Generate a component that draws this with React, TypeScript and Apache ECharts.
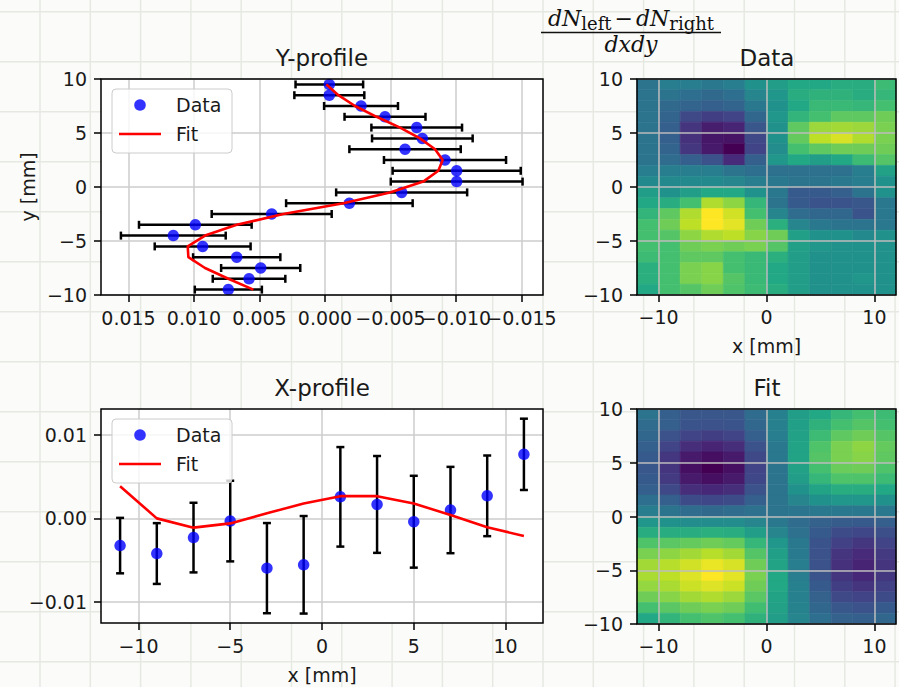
import React, { useEffect, useRef } from 'react';
import * as echarts from 'echarts';

const FONT = 'DejaVu Sans';
const SERIF = 'DejaVu Serif';
const TXT = '#1a1a1a';

// ---------- Y-profile ----------
const yProfileY = [9.5, 8.5, 7.5, 6.5, 5.5, 4.5, 3.5, 2.5, 1.5, 0.5, -0.5, -1.5, -2.5, -3.5, -4.5, -5.5, -6.5, -7.5, -8.5, -9.5];
const yProfileVal = [-0.00033, -0.00033, -0.00275, -0.00458, -0.0070, -0.00743, -0.00611, -0.00916, -0.01005, -0.01005, -0.00585, -0.00186, 0.00407, 0.0099, 0.01158, 0.00934, 0.00674, 0.00491, 0.0058, 0.00738];
const yProfileErr = [0.00258, 0.00267, 0.00282, 0.00309, 0.00346, 0.00384, 0.00425, 0.00466, 0.00489, 0.00503, 0.005, 0.00483, 0.00458, 0.0043, 0.004, 0.00366, 0.00333, 0.00302, 0.00277, 0.00256];
const yProfileFit = [-0.0001, -0.00102, -0.00229, -0.00394, -0.00573, -0.00725, -0.0084, -0.00898, -0.00865, -0.0075, -0.00496, -0.0014, 0.00318, 0.00674, 0.00916, 0.01048, 0.01043, 0.00916, 0.00738, 0.00547];
const yProfileXTicks = [-0.015, -0.01, -0.005, 0, 0.005, 0.01, 0.015];
// labels are split in two alternating sets so that overlapping neighbours are both kept
const yProfileXLabelsA = [-0.015, -0.005, 0.005, 0.015];
const yProfileXLabelsB = [-0.01, 0, 0.01];
const posTicks = [-10, -5, 0, 5, 10];

// ---------- X-profile ----------
const xProfileX = [-11, -9, -7, -5, -3, -1, 1, 3, 5, 7, 9, 11];
const xProfileVal = [-0.00326, -0.00421, -0.0023, -0.00032, -0.00596, -0.00556, 0.00258, 0.00167, -0.0004, 0.001, 0.0027, 0.00767];
const xProfileErr = [0.00332, 0.00364, 0.00417, 0.00483, 0.0054, 0.00584, 0.00596, 0.0058, 0.0055, 0.00517, 0.00483, 0.00427];
const xProfileFit = [0.00386, 0.0, -0.00111, -0.0006, 0.0006, 0.00179, 0.00266, 0.00266, 0.00179, 0.0004, -0.00107, -0.00211];
const xProfileYTicks = [-0.01, 0, 0.01];

// ---------- Heatmaps (rows top -> bottom, columns left -> right) ----------
const heatX = [-11, -9, -7, -5, -3, -1, 1, 3, 5, 7, 9, 11];
const heatY = yProfileY;
const heatXTicks = [-10, 0, 10];

const dataHeatRows = [
  [0.38, 0.42, 0.42, 0.40, 0.42, 0.50, 0.55, 0.60, 0.60, 0.62, 0.62, 0.68],
  [0.38, 0.38, 0.36, 0.34, 0.36, 0.45, 0.52, 0.62, 0.64, 0.64, 0.62, 0.66],
  [0.38, 0.34, 0.32, 0.30, 0.32, 0.40, 0.50, 0.60, 0.67, 0.67, 0.66, 0.70],
  [0.38, 0.32, 0.22, 0.18, 0.20, 0.33, 0.52, 0.65, 0.70, 0.75, 0.75, 0.78],
  [0.38, 0.30, 0.15, 0.08, 0.10, 0.27, 0.50, 0.75, 0.85, 0.86, 0.85, 0.80],
  [0.38, 0.30, 0.14, 0.06, 0.05, 0.22, 0.50, 0.76, 0.90, 0.94, 0.88, 0.80],
  [0.38, 0.32, 0.16, 0.07, 0.00, 0.20, 0.48, 0.70, 0.75, 0.78, 0.78, 0.78],
  [0.38, 0.35, 0.30, 0.25, 0.12, 0.30, 0.52, 0.60, 0.55, 0.60, 0.68, 0.73],
  [0.42, 0.42, 0.42, 0.42, 0.38, 0.36, 0.37, 0.37, 0.37, 0.37, 0.42, 0.57],
  [0.47, 0.47, 0.47, 0.47, 0.45, 0.42, 0.40, 0.38, 0.38, 0.40, 0.42, 0.50],
  [0.55, 0.50, 0.55, 0.60, 0.60, 0.50, 0.40, 0.28, 0.28, 0.30, 0.38, 0.50],
  [0.60, 0.62, 0.70, 0.88, 0.83, 0.66, 0.38, 0.28, 0.26, 0.26, 0.27, 0.40],
  [0.65, 0.75, 0.88, 1.00, 0.93, 0.70, 0.45, 0.35, 0.33, 0.33, 0.26, 0.40],
  [0.70, 0.78, 0.90, 1.00, 0.96, 0.78, 0.63, 0.45, 0.40, 0.38, 0.38, 0.40],
  [0.70, 0.73, 0.83, 0.88, 0.90, 0.82, 0.78, 0.56, 0.50, 0.50, 0.47, 0.50],
  [0.70, 0.70, 0.78, 0.80, 0.78, 0.80, 0.73, 0.56, 0.52, 0.50, 0.50, 0.50],
  [0.68, 0.70, 0.75, 0.75, 0.70, 0.67, 0.63, 0.55, 0.50, 0.50, 0.50, 0.50],
  [0.63, 0.70, 0.80, 0.82, 0.70, 0.67, 0.60, 0.55, 0.50, 0.50, 0.50, 0.50],
  [0.63, 0.70, 0.80, 0.82, 0.73, 0.67, 0.60, 0.55, 0.50, 0.50, 0.52, 0.50],
  [0.60, 0.70, 0.73, 0.78, 0.72, 0.68, 0.62, 0.55, 0.50, 0.50, 0.50, 0.50],
];

const fitHeatRows = [
  [0.38, 0.30, 0.27, 0.27, 0.27, 0.35, 0.43, 0.55, 0.60, 0.66, 0.70, 0.68],
  [0.35, 0.30, 0.26, 0.25, 0.26, 0.33, 0.43, 0.56, 0.64, 0.70, 0.73, 0.70],
  [0.33, 0.25, 0.20, 0.18, 0.20, 0.30, 0.42, 0.57, 0.68, 0.75, 0.78, 0.73],
  [0.30, 0.20, 0.13, 0.10, 0.13, 0.25, 0.40, 0.58, 0.72, 0.80, 0.83, 0.76],
  [0.28, 0.16, 0.07, 0.04, 0.07, 0.22, 0.40, 0.58, 0.73, 0.80, 0.82, 0.75],
  [0.27, 0.15, 0.04, 0.00, 0.04, 0.20, 0.38, 0.57, 0.70, 0.77, 0.78, 0.72],
  [0.28, 0.17, 0.07, 0.04, 0.07, 0.21, 0.38, 0.55, 0.66, 0.72, 0.72, 0.68],
  [0.30, 0.22, 0.13, 0.11, 0.13, 0.25, 0.38, 0.50, 0.58, 0.62, 0.62, 0.60],
  [0.36, 0.30, 0.23, 0.21, 0.23, 0.30, 0.38, 0.45, 0.50, 0.52, 0.52, 0.50],
  [0.42, 0.38, 0.35, 0.34, 0.35, 0.37, 0.38, 0.39, 0.40, 0.40, 0.40, 0.40],
  [0.52, 0.50, 0.48, 0.48, 0.48, 0.45, 0.40, 0.35, 0.31, 0.29, 0.28, 0.30],
  [0.62, 0.62, 0.62, 0.63, 0.62, 0.55, 0.45, 0.37, 0.28, 0.23, 0.21, 0.24],
  [0.72, 0.74, 0.76, 0.78, 0.76, 0.66, 0.52, 0.40, 0.26, 0.19, 0.16, 0.20],
  [0.80, 0.83, 0.86, 0.89, 0.86, 0.73, 0.56, 0.41, 0.25, 0.15, 0.12, 0.17],
  [0.86, 0.89, 0.93, 0.97, 0.94, 0.78, 0.58, 0.42, 0.25, 0.14, 0.10, 0.15],
  [0.87, 0.90, 0.95, 1.00, 0.96, 0.80, 0.60, 0.42, 0.26, 0.15, 0.11, 0.16],
  [0.84, 0.87, 0.92, 0.95, 0.92, 0.78, 0.60, 0.43, 0.28, 0.18, 0.15, 0.19],
  [0.78, 0.82, 0.86, 0.88, 0.85, 0.74, 0.58, 0.43, 0.31, 0.22, 0.20, 0.23],
  [0.70, 0.74, 0.78, 0.80, 0.78, 0.69, 0.57, 0.44, 0.33, 0.27, 0.25, 0.28],
  [0.60, 0.65, 0.70, 0.72, 0.70, 0.64, 0.55, 0.45, 0.36, 0.31, 0.30, 0.33],
];

const viridis = ['#440154', '#482475', '#414487', '#355f8d', '#2a788e', '#21918c', '#22a884', '#44bf70', '#7ad151', '#bddf26', '#fde725'];

const fmtMinus = (v: number, d: number) => {
  const s = Math.abs(v).toFixed(d);
  return v < -1e-12 ? '\u2212' + s : s;
};

const heatData = (rows: number[][]) => {
  const out: number[][] = [];
  rows.forEach((row, r) => row.forEach((v, c) => out.push([heatX[c], heatY[r], v])));
  return out;
};

const GRIDS = [
  { left: 101, top: 79, width: 442, height: 216 },
  { left: 101, top: 409, width: 442, height: 214 },
  { left: 637, top: 79, width: 259, height: 216 },
  { left: 637, top: 409, width: 259, height: 215 },
];

const Y_XMIN = -0.01664;
const Y_XMAX = 0.0171;

function axisBase(gridIndex: number, min: number, max: number, ticks: number[], fmt: (v: number) => string, extra: any = {}, gridColor = '#cccccc', margin = 13, labels?: number[]) {
  return {
    type: 'value',
    gridIndex,
    min,
    max,
    axisLine: { show: false, onZero: false },
    axisTick: { show: true, inside: false, length: 7, lineStyle: { color: '#000', width: 1.5 }, customValues: ticks },
    axisLabel: {
      show: true, color: TXT, fontSize: 19, fontFamily: FONT, margin,
      customValues: labels || ticks, formatter: fmt, showMinLabel: true, showMaxLabel: true, hideOverlap: false,
    },
    splitLine: { show: true, lineStyle: { color: gridColor, width: 1.5 } },
    nameTextStyle: { color: TXT, fontSize: 19, fontFamily: FONT },
    ...extra,
  };
}

const hErr = (params: any, api: any) => {
  const x = api.value(0), y = api.value(1), e = api.value(2);
  const a = api.coord([x - e, y]);
  const b = api.coord([x + e, y]);
  const st = { stroke: '#000', lineWidth: 2.5 };
  const cap = 4;
  return {
    type: 'group',
    children: [
      { type: 'line', shape: { x1: a[0], y1: a[1], x2: b[0], y2: b[1] }, style: st },
      { type: 'line', shape: { x1: a[0], y1: a[1] - cap, x2: a[0], y2: a[1] + cap }, style: st },
      { type: 'line', shape: { x1: b[0], y1: b[1] - cap, x2: b[0], y2: b[1] + cap }, style: st },
    ],
  };
};

const vErr = (params: any, api: any) => {
  const x = api.value(0), y = api.value(1), e = api.value(2);
  const a = api.coord([x, y - e]);
  const b = api.coord([x, y + e]);
  const st = { stroke: '#000', lineWidth: 2.5 };
  const cap = 4;
  return {
    type: 'group',
    children: [
      { type: 'line', shape: { x1: a[0], y1: a[1], x2: b[0], y2: b[1] }, style: st },
      { type: 'line', shape: { x1: a[0] - cap, y1: a[1], x2: a[0] + cap, y2: a[1] }, style: st },
      { type: 'line', shape: { x1: b[0] - cap, y1: b[1], x2: b[0] + cap, y2: b[1] }, style: st },
    ],
  };
};

const heatRender = (params: any, api: any) => {
  const x = api.value(0), y = api.value(1);
  const p0 = api.coord([x - 1, y + 0.5]);
  const p1 = api.coord([x + 1, y - 0.5]);
  const c = api.visual('color');
  return {
    type: 'rect',
    shape: { x: p0[0], y: p0[1], width: p1[0] - p0[0], height: p1[1] - p0[1] },
    style: { fill: c, stroke: c, lineWidth: 0.6 },
  };
};

function legendGraphic(x: number, y: number) {
  return {
    type: 'group',
    x,
    y,
    z: 20,
    silent: true,
    children: [
      { type: 'rect', z: 20, shape: { x: 0, y: 0, width: 120, height: 64, r: 4 }, style: { fill: 'rgba(255,255,255,0.8)', stroke: '#cccccc', lineWidth: 1 } },
      { type: 'circle', z: 21, shape: { cx: 28, cy: 16, r: 5.8 }, style: { fill: 'rgba(0,0,255,0.8)' } },
      { type: 'line', z: 21, shape: { x1: 7, y1: 45, x2: 49, y2: 45 }, style: { stroke: '#ff0000', lineWidth: 2.6 } },
      { type: 'text', z: 21, x: 64, y: 16, style: { text: 'Data', fill: TXT, font: `19px "${FONT}"`, align: 'left', verticalAlign: 'middle' } },
      { type: 'text', z: 21, x: 64, y: 45, style: { text: 'Fit', fill: TXT, font: `19px "${FONT}"`, align: 'left', verticalAlign: 'middle' } },
    ],
  };
}

function paperLines() {
  const els: any[] = [];
  const st = { stroke: '#e6e9e2', lineWidth: 1.5 };
  for (let k = 0; k < 18; k++) {
    const x = 40 + 50.3 * k;
    els.push({ type: 'line', z: -5, silent: true, shape: { x1: x, y1: 0, x2: x, y2: 687 }, style: st });
  }
  for (let k = 0; k < 14; k++) {
    const y = 11.7 + 50 * k;
    els.push({ type: 'line', z: -5, silent: true, shape: { x1: 0, y1: y, x2: 899, y2: y }, style: st });
  }
  return els;
}

export default function App() {
  const ref = useRef<HTMLDivElement>(null);

  useEffect(() => {
    if (!ref.current) return;
    const chart = echarts.init(ref.current, null, { renderer: 'svg' });

    const hidden = (i: number) => ({ type: 'value', gridIndex: i, show: false, min: 0, max: 1 });
    const fmt3 = (v: number) => fmtMinus(v, 3);

    const option: any = {
      animation: false,
      backgroundColor: '#fbfcf9',
      title: [
        { text: 'Y-profile', left: 322, top: 58 },
        { text: 'X-profile', left: 322, top: 388 },
        { text: 'Data', left: 767, top: 58 },
        { text: 'Fit', left: 767, top: 388 },
      ].map((t) => ({
        ...t,
        padding: 0,
        textAlign: 'center',
        textVerticalAlign: 'middle',
        textStyle: { color: TXT, fontSize: 23, fontWeight: 'normal', fontFamily: FONT },
      })),
      grid: [
        { ...GRIDS[0], show: true, backgroundColor: '#ffffff', borderWidth: 0 },
        { ...GRIDS[1], show: true, backgroundColor: '#ffffff', borderWidth: 0 },
        { ...GRIDS[2], show: false },
        { ...GRIDS[3], show: false },
        ...GRIDS.map((g) => ({ ...g, show: true, backgroundColor: 'transparent', borderColor: '#000', borderWidth: 1.5, z: 8 })),
      ],
      xAxis: [
        axisBase(0, Y_XMIN, Y_XMAX, yProfileXTicks, fmt3, { inverse: true, position: 'bottom' }, '#cccccc', 13, yProfileXLabelsA),
        axisBase(1, -12.04, 12.04, posTicks, (v: number) => fmtMinus(v, 0), { name: 'x [mm]', nameLocation: 'middle', nameGap: 42 }),
        axisBase(2, -12, 12, heatXTicks, (v: number) => fmtMinus(v, 0), { name: 'x [mm]', nameLocation: 'middle', nameGap: 41, z: 5 }, '#bdbdbd', 12),
        axisBase(3, -12, 12, heatXTicks, (v: number) => fmtMinus(v, 0), { z: 5 }, '#bdbdbd', 12),
        hidden(4), hidden(5), hidden(6), hidden(7),
        {
          type: 'value', gridIndex: 0, position: 'bottom', offset: 0, min: Y_XMIN, max: Y_XMAX, inverse: true,
          axisLine: { show: false, onZero: false }, axisTick: { show: false }, splitLine: { show: false },
          axisLabel: {
            show: true, color: TXT, fontSize: 19, fontFamily: FONT, margin: 13,
            customValues: yProfileXLabelsB, formatter: fmt3, showMinLabel: true, showMaxLabel: true,
          },
        },
      ],
      yAxis: [
        axisBase(0, -10, 10, posTicks, (v: number) => fmtMinus(v, 0), { name: 'y [mm]', nameLocation: 'middle', nameGap: 64, nameRotate: 90 }, '#cccccc', 14),
        axisBase(1, -0.01253, 0.0131, xProfileYTicks, (v: number) => fmtMinus(v, 2), {}, '#cccccc', 14),
        axisBase(2, -10, 10, posTicks, (v: number) => fmtMinus(v, 0), { z: 5 }, '#bdbdbd', 14),
        axisBase(3, -10, 10, posTicks, (v: number) => fmtMinus(v, 0), { z: 5 }, '#bdbdbd', 14),
        hidden(4), hidden(5), hidden(6), hidden(7),
      ],
      visualMap: [
        { type: 'continuous', show: false, min: 0, max: 1, dimension: 2, seriesIndex: [6, 7], inRange: { color: viridis } },
      ],
      series: [
        {
          type: 'custom', name: 'Y err', xAxisIndex: 0, yAxisIndex: 0, z: 2, silent: true,
          data: yProfileVal.map((v, i) => [v, yProfileY[i], yProfileErr[i]]),
          encode: { x: 0, y: 1 }, renderItem: hErr,
        },
        {
          type: 'scatter', name: 'Data', xAxisIndex: 0, yAxisIndex: 0, z: 3, silent: true,
          data: yProfileVal.map((v, i) => [v, yProfileY[i]]),
          symbolSize: 11.5, itemStyle: { color: '#0000ff', opacity: 0.8 },
        },
        {
          type: 'line', name: 'Fit', xAxisIndex: 0, yAxisIndex: 0, z: 4, silent: true,
          data: yProfileFit.map((v, i) => [v, yProfileY[i]]),
          showSymbol: false, symbol: 'none', lineStyle: { color: '#ff0000', width: 2.6 },
        },
        {
          type: 'custom', name: 'X err', xAxisIndex: 1, yAxisIndex: 1, z: 2, silent: true,
          data: xProfileVal.map((v, i) => [xProfileX[i], v, xProfileErr[i]]),
          encode: { x: 0, y: 1 }, renderItem: vErr,
        },
        {
          type: 'scatter', name: 'Data', xAxisIndex: 1, yAxisIndex: 1, z: 3, silent: true,
          data: xProfileVal.map((v, i) => [xProfileX[i], v]),
          symbolSize: 11.5, itemStyle: { color: '#0000ff', opacity: 0.8 },
        },
        {
          type: 'line', name: 'Fit', xAxisIndex: 1, yAxisIndex: 1, z: 4, silent: true,
          data: xProfileFit.map((v, i) => [xProfileX[i], v]),
          showSymbol: false, symbol: 'none', lineStyle: { color: '#ff0000', width: 2.6 },
        },
        {
          type: 'custom', name: 'Data map', xAxisIndex: 2, yAxisIndex: 2, z: 2, silent: true,
          data: heatData(dataHeatRows), encode: { x: 0, y: 1 }, renderItem: heatRender,
        },
        {
          type: 'custom', name: 'Fit map', xAxisIndex: 3, yAxisIndex: 3, z: 2, silent: true,
          data: heatData(fitHeatRows), encode: { x: 0, y: 1 }, renderItem: heatRender,
        },
      ],
      graphic: [
        ...paperLines(),
        legendGraphic(112, 89),
        legendGraphic(112, 419),
        {
          type: 'text', x: 631, y: 18, z: 20, silent: true,
          style: {
            text: '{i|dN}{s|left}{o|\u2212}{i|dN}{s|right}',
            align: 'center', verticalAlign: 'middle',
            rich: {
              i: { fontFamily: SERIF, fontStyle: 'italic', fontSize: 22, lineHeight: 28, fill: '#111' },
              s: { fontFamily: SERIF, fontSize: 18, lineHeight: 20, verticalAlign: 'bottom', fill: '#111' },
              o: { fontFamily: SERIF, fontSize: 22, lineHeight: 28, padding: [0, 3], fill: '#111' },
            },
          },
        },
        { type: 'line', z: 20, silent: true, shape: { x1: 541, y1: 32.5, x2: 721, y2: 32.5 }, style: { stroke: '#111', lineWidth: 1.4 } },
        {
          type: 'text', x: 631, y: 44.5, z: 20, silent: true,
          style: { text: 'dxdy', fill: '#111', font: `italic 22px "${SERIF}"`, align: 'center', verticalAlign: 'middle' },
        },
      ],
    };

    chart.setOption(option);
    return () => chart.dispose();
  }, []);

  return <div ref={ref} style={{ position: 'fixed', left: 0, top: 0, width: 899, height: 687 }} />;
}
